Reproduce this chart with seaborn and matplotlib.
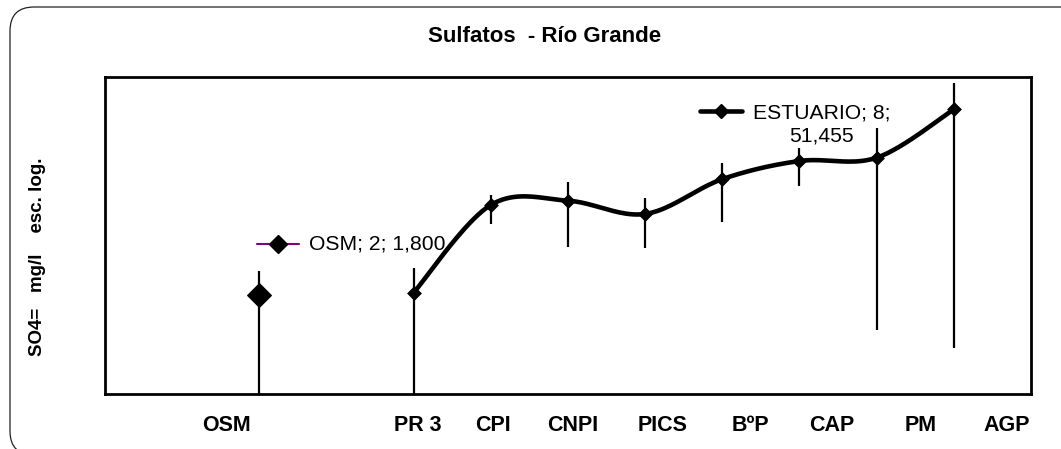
import numpy as np
import pandas as pd
import seaborn as sns
import matplotlib
matplotlib.use('Agg')
import matplotlib.pyplot as plt
from matplotlib.patches import FancyBboxPatch
from matplotlib.lines import Line2D
from matplotlib.transforms import IdentityTransform

# Data (SO4= mg/l, log scale)
categories = ['OSM', 'PR 3', 'CPI', 'CNPI', 'PICS', 'BºP', 'CAP', 'PM', 'AGP']
x_pos = [2, 4, 5, 6, 7, 8, 9, 10, 11]
so4 = [1.8, 1.9, 24.3, 27.5, 18.7, 51.455, 87.1, 95.9, 391]
err_hi = [3.56, 3.92, 32.4, 47.3, 29.5, 82.9, 126, 225, 848]
err_lo = [0.01, 0.01, 14.0, 7.16, 6.9, 14.9, 42.2, 0.65, 0.38]

# where the category labels sit under the axis (Excel put them off the points)
label_pos = [1.58, 4.05, 5.03, 6.06, 7.23, 8.36, 9.42, 10.57, 11.68]

sns.set_style('white')
plt.rcParams['font.family'] = ['Liberation Sans', 'DejaVu Sans']
plt.rcParams['text.color'] = 'black'
plt.rcParams['xtick.color'] = 'black'
plt.rcParams['axes.labelcolor'] = 'black'

W, H = 1061, 449
fig = plt.figure(figsize=(W / 100, H / 100), dpi=100)
ax = fig.add_axes([105 / W, 55 / H, 926 / W, 317 / H])


def smooth(xs, ys, n=40):
    # bezier smoothing like Excel's "smoothed line", done in log space
    P = np.column_stack([np.asarray(xs, float), np.log10(ys)])
    Pe = np.vstack([P[0], P, P[-1]])
    out = []
    for i in range(len(P) - 1):
        p0, p1, p2, p3 = Pe[i], Pe[i + 1], Pe[i + 2], Pe[i + 3]
        c1 = p1 + (p2 - p0) / 6
        c2 = p2 - (p3 - p1) / 6
        t = np.linspace(0, 1, n)[:, None]
        seg = (1 - t) ** 3 * p1 + 3 * (1 - t) ** 2 * t * c1 + 3 * (1 - t) * t ** 2 * c2 + t ** 3 * p2
        out.append(seg if i == 0 else seg[1:])
    c = np.vstack(out)
    return c[:, 0], 10 ** c[:, 1]


ax.set_yscale('log')
ax.set_xlim(0, 12)
ax.set_ylim(0.1, 1000)

# error bars
ax.vlines(x_pos, err_lo, err_hi, colors='black', lw=1.6, zorder=2)

# ESTUARIO series (smoothed)
cx, cy = smooth(x_pos[1:], so4[1:])
curve = pd.DataFrame({'x': cx, 'y': cy})
sns.lineplot(data=curve, x='x', y='y', sort=False, estimator=None,
             color='black', lw=3.3, ax=ax, zorder=3)
sns.scatterplot(x=x_pos[1:], y=so4[1:], marker='D', s=7 ** 2, color='black',
                edgecolor='black', ax=ax, zorder=4)

# OSM series (single point)
sns.scatterplot(x=x_pos[:1], y=so4[:1], marker='D', s=12 ** 2, color='black',
                edgecolor='black', ax=ax, zorder=4)

ax.set_xlim(0, 12)
ax.set_ylim(0.1, 1000)
ax.set_xlabel('')
ax.set_ylabel('')
ax.set_xticks(label_pos)
ax.set_xticklabels(categories, fontsize=15.5, fontweight='bold')
ax.tick_params(axis='x', length=0, pad=15, colors='black')
ax.tick_params(axis='y', which='both', left=False, labelleft=False)
ax.yaxis.set_minor_locator(matplotlib.ticker.NullLocator())
for sp in ax.spines.values():
    sp.set_color('black')
    sp.set_linewidth(2)
    sp.set_visible(True)

# data labels with their legend keys
idt = IdentityTransform()
px, py = ax.transData.transform((x_pos[0], so4[0]))
ax.add_line(Line2D([px - 2, px + 40], [py + 51, py + 51], transform=idt,
                   color='#800080', lw=1.5, clip_on=False, zorder=5))
ax.add_line(Line2D([px + 19], [py + 51], transform=idt, marker='D', ms=9.5,
                   color='black', lw=0, clip_on=False, zorder=6))
ax.annotate(f'{categories[0]}; {x_pos[0]}; 1,800', xy=(x_pos[0], so4[0]),
            xytext=(50, 51), textcoords='offset pixels', ha='left', va='center',
            fontsize=15.2)

px, py = ax.transData.transform((x_pos[5], so4[5]))
ax.add_line(Line2D([px - 22, px + 20], [py + 68, py + 68], transform=idt,
                   color='black', lw=3.3, clip_on=False, zorder=5))
ax.add_line(Line2D([px - 1], [py + 68], transform=idt, marker='D', ms=7,
                   color='black', lw=0, clip_on=False, zorder=6))
ax.annotate(f'ESTUARIO; {x_pos[5]};\n51,455', xy=(x_pos[5], so4[5]),
            xytext=(99, 55), textcoords='offset pixels', ha='center', va='center',
            fontsize=15.2, linespacing=1.27)

# titles
fig.text(545 / W, 1 - 36 / H, 'Sulfatos  - Río Grande', ha='center', va='center',
         fontsize=16, fontweight='bold')
fig.text(38 / W, 1 - 256.5 / H, 'SO4=   mg/l    esc. log.', rotation=90,
         ha='center', va='center', fontsize=13.5, fontweight='bold')

# rounded chart border (runs off the right and bottom edges)
border = FancyBboxPatch((10, -6), 1100, 448, boxstyle='round,pad=0,rounding_size=24',
                        transform=idt, fill=False, ec='#222222', lw=0.9)
fig.add_artist(border)

fig.savefig('out.png', dpi=100)
